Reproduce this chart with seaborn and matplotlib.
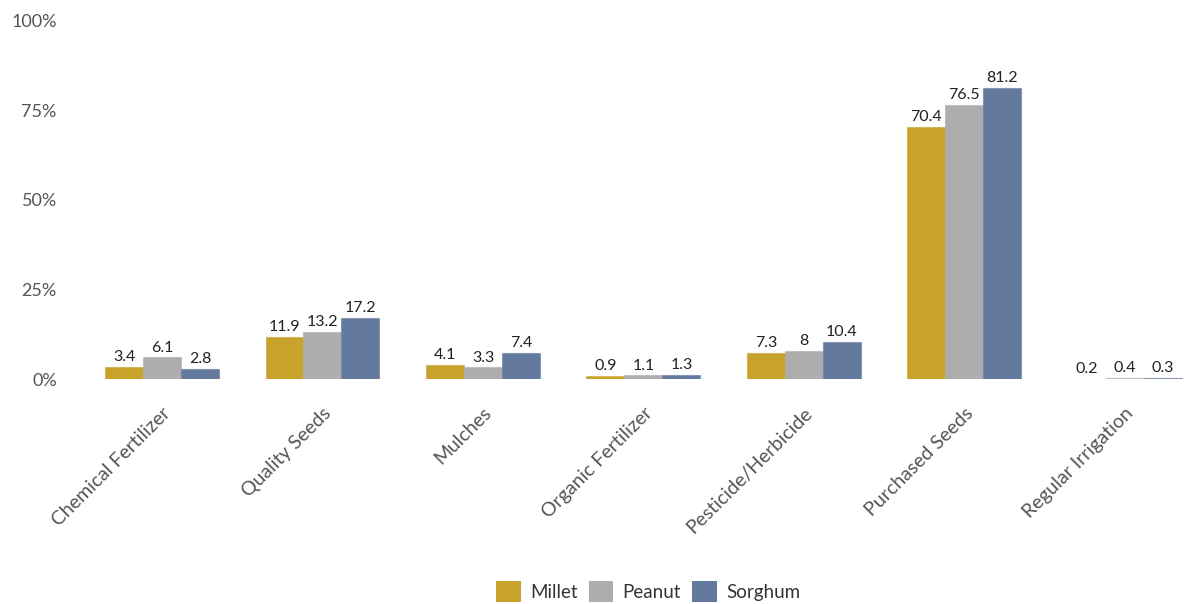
import matplotlib
matplotlib.use("Agg")
import matplotlib.pyplot as plt
import seaborn as sns
import pandas as pd

categories = ["Chemical Fertilizer", "Quality Seeds", "Mulches", "Organic Fertilizer",
              "Pesticide/Herbicide", "Purchased Seeds", "Regular Irrigation"]
millet = [3.4, 11.9, 4.1, 0.9, 7.3, 70.4, 0.2]
peanut = [6.1, 13.2, 3.3, 1.1, 8, 76.5, 0.4]
sorghum = [2.8, 17.2, 7.4, 1.3, 10.4, 81.2, 0.3]
crops = ["Millet", "Peanut", "Sorghum"]
colors = ["#C9A22B", "#ADADAD", "#63799E"]
y_ticks = [0, 25, 50, 75, 100]

df = pd.DataFrame({
    "practice": categories * 3,
    "crop": [c for c in crops for _ in categories],
    "value": millet + peanut + sorghum,
})

sns.set_theme(style="white")
plt.rcParams["font.family"] = ["Lato", "DejaVu Sans"]

fig = plt.figure(figsize=(11.85, 6.04), dpi=100)
ax = fig.add_axes([0.069, 0.372, 0.948, 0.594])

sns.barplot(data=df, x="practice", y="value", hue="crop", order=categories,
            hue_order=crops, palette=colors, width=0.71, gap=0,
            linewidth=0, saturation=1, ax=ax)

# a soft outline in each bar's own colour keeps very small values visible
for cont in ax.containers:
    for patch in cont:
        fc = patch.get_facecolor()
        patch.set_edgecolor((fc[0], fc[1], fc[2], 0.55))
        patch.set_linewidth(0.8)
    labels = [f"{v:g}" for v in cont.datavalues]
    ax.bar_label(cont, labels=labels, padding=2, fontsize=11.5, color="#222222")

ax.set_ylim(0, 100)
ax.set_yticks(y_ticks)
ax.set_yticklabels([f"{t}%" for t in y_ticks], fontsize=13, color="#555555")
ax.set_xlim(-0.5, 6.5)
ax.set_xlabel("")
ax.set_ylabel("")
ax.tick_params(axis="x", labelsize=14, colors="#555555", length=0, pad=18)
ax.tick_params(axis="y", length=0, pad=18)
for lbl in ax.get_xticklabels():
    lbl.set_rotation(45)
    lbl.set_ha("right")
    lbl.set_rotation_mode("anchor")
for s in ax.spines.values():
    s.set_visible(False)

handles, labels = ax.get_legend_handles_labels()
ax.get_legend().remove()
leg = fig.legend(handles, labels, loc="center", bbox_to_anchor=(0.547, 0.021), ncol=3,
                 frameon=False, fontsize=13.5, handlelength=1.3, handleheight=1.3,
                 handletextpad=0.5, columnspacing=0.6, borderaxespad=0)
for t in leg.get_texts():
    t.set_color("#333333")

fig.savefig("out.png", dpi=100)
